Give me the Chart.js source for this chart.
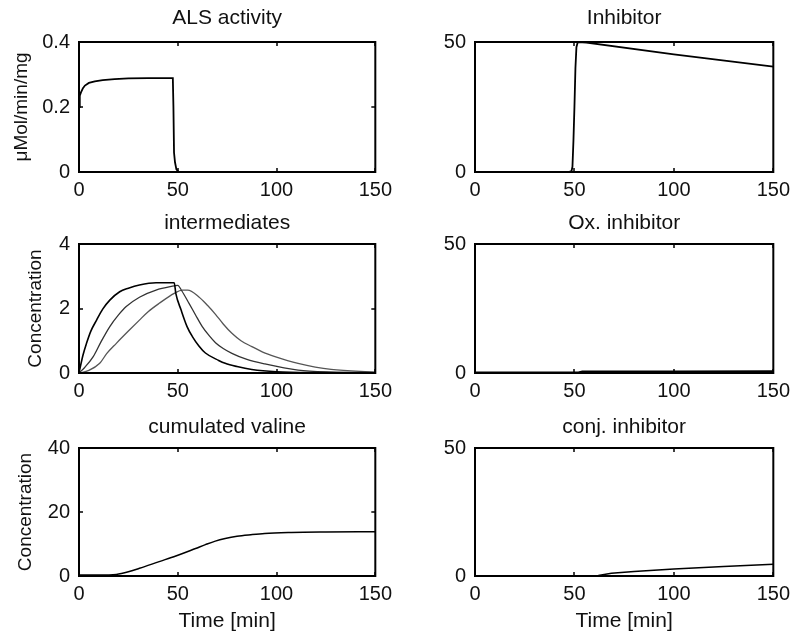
<!DOCTYPE html>
<html>
<head>
<meta charset="utf-8">
<script src="https://cdn.jsdelivr.net/npm/chart.js@4.4.1/dist/chart.umd.min.js"></script>
<style>
  html, body { margin: 0; padding: 0; background: #fff; }
  #wrap { position: relative; width: 796px; height: 636px; overflow: hidden; }
  canvas { position: absolute; }
</style>
</head>
<body>
<div id="wrap">
  <canvas id="c1" width="398" height="202" style="left:0;top:0"></canvas>
  <canvas id="c2" width="398" height="202" style="left:398px;top:0"></canvas>
  <canvas id="c3" width="398" height="201" style="left:0;top:202px"></canvas>
  <canvas id="c4" width="398" height="201" style="left:398px;top:202px"></canvas>
  <canvas id="c5" width="398" height="230" style="left:0;top:406px"></canvas>
  <canvas id="c6" width="398" height="230" style="left:398px;top:406px"></canvas>
</div>
<script>
// ALS activity
const alsTime = [0, 0.3, 0.5, 1, 2, 3, 5, 8, 12, 18, 25, 35, 47.5, 47.8, 48.1, 48.6, 49.3, 50.5, 150];
const alsValue = [0.20, 0.23, 0.235, 0.245, 0.258, 0.266, 0.274, 0.279, 0.283, 0.286, 0.288, 0.289, 0.289, 0.2, 0.06, 0.03, 0.008, 0, 0];

// Inhibitor
const inhTime = [0, 47, 48.5, 49, 49.5, 50, 50.5, 51, 51.5, 52, 56, 100, 150];
const inhValue = [0, 0, 0.3, 2, 12, 25, 40, 48, 49.5, 50, 49.8, 45.2, 40.5];

// intermediates (three curves)
const intATime = [0, 2, 3.8, 6, 8.9, 12, 15.6, 20.6, 25, 30.6, 39, 48.2, 49, 51.7, 54.7, 57.4, 60.7, 64, 70.7, 74, 80, 87.5, 100, 120, 150];
const intAValue = [0, 0.55, 0.92, 1.3, 1.64, 1.98, 2.26, 2.52, 2.63, 2.73, 2.80, 2.80, 2.47, 1.95, 1.44, 1.13, 0.84, 0.62, 0.39, 0.30, 0.2, 0.11, 0.04, 0.015, 0.01];
const intBTime = [0, 3, 7.2, 11, 15.6, 20, 23.9, 30.6, 39, 48.2, 50, 52, 55.7, 59, 62.4, 66, 69.1, 73, 77.4, 85, 94.1, 110.9, 127.6, 150];
const intBValue = [0, 0.18, 0.51, 0.95, 1.44, 1.8, 2.06, 2.35, 2.57, 2.70, 2.72, 2.55, 2.16, 1.8, 1.44, 1.15, 0.94, 0.76, 0.61, 0.42, 0.28, 0.09, 0.03, 0.01];
const intCTime = [0, 5, 10.5, 14, 18.9, 25, 30.6, 35, 40.6, 48.2, 52.3, 55, 60.7, 65, 69.1, 73, 77.4, 82, 87.5, 93, 99.2, 110.9, 127.6, 150];
const intCValue = [0, 0.08, 0.30, 0.6, 0.92, 1.3, 1.64, 1.9, 2.16, 2.47, 2.57, 2.57, 2.36, 2.1, 1.82, 1.52, 1.23, 1.0, 0.82, 0.65, 0.51, 0.30, 0.11, 0.03];

// Ox. inhibitor
const oxTime = [0, 52, 54, 100, 150];
const oxValue = [0, 0, 0.35, 0.42, 0.45];

// cumulated valine
const valTime = [0, 10, 18.9, 25, 30.6, 40.6, 49, 59, 64, 69, 74, 80, 87, 94, 107.5, 125, 150];
const valValue = [0.3, 0.3, 0.5, 1.3, 2.4, 4.5, 6.25, 8.6, 9.8, 10.9, 11.7, 12.4, 12.9, 13.3, 13.6, 13.75, 13.85];

// conj. inhibitor
const conjTime = [0, 55, 62, 68.6, 80, 100, 125, 150];
const conjValue = [0, 0, 0.2, 1.1, 1.8, 2.7, 3.7, 4.6];

const FONT = "'Liberation Sans', Arial, sans-serif";
const INK = "#111";

function points(ts, vs) {
  return ts.map((t, i) => ({ x: t, y: vs[i] }));
}

// box around the axes with inward ticks on all four sides
const boxPlugin = {
  id: "box",
  afterDatasetsDraw(chart) {
    const { ctx, chartArea: a, scales: { x, y } } = chart;
    const len = 4;
    ctx.save();
    ctx.strokeStyle = "#000";
    ctx.lineWidth = 1.5;
    ctx.beginPath();
    x.ticks.forEach((t) => {
      const px = Math.round(x.getPixelForValue(t.value));
      ctx.moveTo(px, a.bottom); ctx.lineTo(px, a.bottom - len);
      ctx.moveTo(px, a.top); ctx.lineTo(px, a.top + len);
    });
    y.ticks.forEach((t) => {
      const py = Math.round(y.getPixelForValue(t.value));
      ctx.moveTo(a.left, py); ctx.lineTo(a.left + len, py);
      ctx.moveTo(a.right, py); ctx.lineTo(a.right - len, py);
    });
    ctx.stroke();
    ctx.lineWidth = 2;
    ctx.strokeRect(a.left, a.top, a.right - a.left, a.bottom - a.top);
    ctx.restore();
  },
};

function makePanel(id, cfg) {
  const datasets = cfg.series.map((s) => ({
    data: points(s.t, s.v),
    showLine: true,
    pointRadius: 0,
    borderColor: s.color || "#000",
    borderWidth: s.width || 1.8,
    cubicInterpolationMode: s.smooth ? "monotone" : "default",
    tension: 0,
  }));
  new Chart(document.getElementById(id), {
    type: "scatter",
    data: { datasets },
    options: {
      responsive: false,
      animation: false,
      events: [],
      layout: { padding: { left: 0, right: 20, top: 0, bottom: 0 } },
      plugins: {
        legend: { display: false },
        tooltip: { enabled: false },
        title: {
          display: true,
          fullSize: false,
          text: cfg.title,
          color: INK,
          font: { family: FONT, size: 21, weight: "normal" },
          padding: { top: cfg.titleTop, bottom: cfg.titleBottom },
        },
      },
      scales: {
        x: {
          type: "linear",
          min: 0,
          max: 150,
          afterFit: (s) => { s.height = cfg.xHeight; },
          grid: { display: false, drawTicks: false },
          border: { display: false },
          ticks: { stepSize: 50, padding: 6, color: INK, font: { family: FONT, size: 20 }, maxRotation: 0 },
          title: {
            display: !!cfg.xLabel,
            text: cfg.xLabel || "",
            color: INK,
            font: { family: FONT, size: 21 },
            padding: { top: 0, bottom: 2 },
          },
        },
        y: {
          type: "linear",
          min: 0,
          max: cfg.yMax,
          afterFit: (s) => { s.width = cfg.yWidth; },
          grid: { display: false, drawTicks: false },
          border: { display: false },
          ticks: { stepSize: cfg.yStep, padding: 9, color: INK, font: { family: FONT, size: 20 } },
          title: {
            display: !!cfg.yLabel,
            text: cfg.yLabel || "",
            color: INK,
            font: { family: FONT, size: 19 },
            padding: { top: cfg.yLabelPad || 0, bottom: 0 },
          },
        },
      },
    },
    plugins: [boxPlugin],
  });
}

makePanel("c1", {
  title: "ALS activity", titleTop: 5.4, titleBottom: 11.4,
  yMax: 0.4, yStep: 0.2, yWidth: 79, yLabel: "\u03BCMol/min/mg", yLabelPad: 10,
  xHeight: 30,
  series: [{ t: alsTime, v: alsValue }],
});
makePanel("c2", {
  title: "Inhibitor", titleTop: 5.4, titleBottom: 11.4,
  yMax: 50, yStep: 50, yWidth: 77,
  xHeight: 30,
  series: [{ t: inhTime, v: inhValue }],
});
makePanel("c3", {
  title: "intermediates", titleTop: 8.4, titleBottom: 8.4,
  yMax: 4, yStep: 2, yWidth: 79, yLabel: "Concentration", yLabelPad: 24,
  xHeight: 30,
  series: [
    { t: intATime, v: intAValue, color: "#000", width: 1.6, smooth: true },
    { t: intBTime, v: intBValue, color: "#333", width: 1.3, smooth: true },
    { t: intCTime, v: intCValue, color: "#555", width: 1.3, smooth: true },
  ],
});
makePanel("c4", {
  title: "Ox. inhibitor", titleTop: 8.4, titleBottom: 8.4,
  yMax: 50, yStep: 50, yWidth: 77,
  xHeight: 30,
  series: [{ t: oxTime, v: oxValue, width: 3 }],
});
makePanel("c5", {
  title: "cumulated valine", titleTop: 8.4, titleBottom: 8.4,
  yMax: 40, yStep: 20, yWidth: 79, yLabel: "Concentration", yLabelPad: 14,
  xHeight: 60, xLabel: "Time [min]",
  series: [{ t: valTime, v: valValue, smooth: true, width: 1.5 }],
});
makePanel("c6", {
  title: "conj. inhibitor", titleTop: 8.4, titleBottom: 8.4,
  yMax: 50, yStep: 50, yWidth: 77,
  xHeight: 60, xLabel: "Time [min]",
  series: [{ t: conjTime, v: conjValue, width: 1.5 }],
});
</script>
</body>
</html>
